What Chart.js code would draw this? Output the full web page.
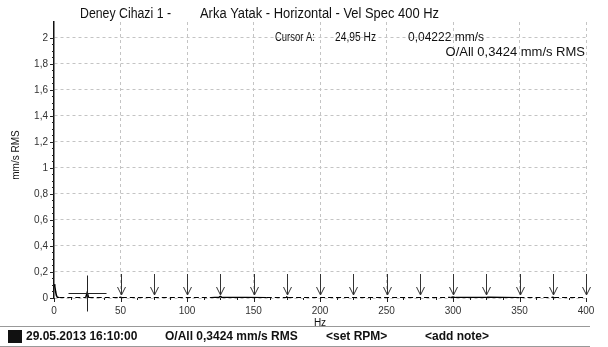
<!DOCTYPE html>
<html>
<head>
<meta charset="utf-8">
<script src="https://cdn.jsdelivr.net/npm/chart.js@4.4.1/dist/chart.umd.min.js"></script>
<style>
body { margin: 0; background: #fff; }
#wrap { position: relative; width: 608px; height: 347px; }
</style>
</head>
<body>
<div id="wrap"><canvas id="spec" width="608" height="347"></canvas></div>
<script>
// spectrum (Hz / mm/s RMS)
const specHz  = [0, 0.6, 1.2, 1.8, 2.5, 4, 10, 20, 23.8, 24.95, 26.1, 35, 49, 50, 51, 75, 100, 118, 124, 125, 126, 132, 145, 160, 174.5, 175, 176, 200, 225, 250, 275, 298, 300, 302, 310, 325, 326, 350, 374, 375, 376, 400];
const specAmp = [0.105, 0.09, 0.05, 0.02, 0.006, 0.002, 0.001, 0.001, 0.002, 0.042, 0.002, 0.001, 0.002, 0.006, 0.002, 0.001, 0.002, 0.002, 0.005, 0.012, 0.006, 0.004, 0.004, 0.001, 0.002, 0.006, 0.002, 0.001, 0.002, 0.001, 0.002, 0.003, 0.008, 0.003, 0.004, 0.003, 0.006, 0.002, 0.002, 0.006, 0.002, 0.001];

// harmonic markers (arrows) and cursor
const harmonicHz = [50, 75, 100, 125, 150, 175, 200, 225, 250, 275, 300, 325, 350, 375, 400];
const cursorHz = 24.95;
const cursorAmp = 0.04222;

const titleLeft = 'Deney Cihazi 1 -';
const titleRight = 'Arka Yatak - Horizontal - Vel Spec 400 Hz';
const cursorTxt = ['Cursor A:', '24,95 Hz', '0,04222 mm/s'];
const overallTxt = 'O/All 0,3424 mm/s RMS';
const footerTxt = ['29.05.2013 16:10:00', 'O/All 0,3424 mm/s RMS', '<set RPM>', '<add note>'];

const FONT = '"Liberation Sans", Arial, sans-serif';

function comma(v) {
    return (Math.round(v * 10) / 10).toString().replace('.', ',');
}

const overlay = {
    id: 'overlay',
    afterDraw(chart) {
        const ctx = chart.ctx;
        const xs = chart.scales.x, ys = chart.scales.y;
        const y0 = ys.getPixelForValue(0);
        ctx.save();

        // axis ticks (major + minor)
        ctx.strokeStyle = '#222';
        ctx.lineWidth = 1;
        ctx.beginPath();
        for (let i = 0; i <= 40; i++) {
            const py = Math.round(ys.getPixelForValue(i * 0.05)) + 0.5;
            const len = (i % 4 === 0) ? 4 : 2;
            ctx.moveTo(xs.left - len, py); ctx.lineTo(xs.left, py);
        }
        for (let i = 0; i <= 32; i++) {
            const px = Math.round(xs.getPixelForValue(i * 12.5)) + 0.5;
            const len = (i % 4 === 0) ? 4 : 2;
            ctx.moveTo(px, y0); ctx.lineTo(px, y0 + len);
        }
        ctx.stroke();

        // harmonic arrows
        ctx.strokeStyle = '#333';
        ctx.beginPath();
        harmonicHz.forEach(h => {
            const px = Math.round(xs.getPixelForValue(h)) + 0.5;
            ctx.moveTo(px, y0 - 24); ctx.lineTo(px, y0 - 3);
            ctx.moveTo(px - 4, y0 - 11); ctx.lineTo(px, y0 - 3); ctx.lineTo(px + 4, y0 - 11);
        });
        ctx.stroke();

        // cursor cross
        const cx = Math.round(xs.getPixelForValue(cursorHz)) + 0.5;
        const cy = Math.round(ys.getPixelForValue(cursorAmp)) + 0.5;
        ctx.strokeStyle = '#222';
        ctx.beginPath();
        ctx.moveTo(cx - 19, cy); ctx.lineTo(cx + 19, cy);
        ctx.moveTo(cx, cy - 18); ctx.lineTo(cx, cy + 18);
        ctx.stroke();

        // header texts
        ctx.fillStyle = '#111';
        ctx.textBaseline = 'middle';
        ctx.textAlign = 'left';
        ctx.font = '14px ' + FONT;
        ctx.fillText(titleLeft, 80, 14, 91);
        ctx.fillText(titleRight, 200, 14, 239);
        ctx.font = '12px ' + FONT;
        ctx.fillText(cursorTxt[0], 275, 38, 40);
        ctx.fillText(cursorTxt[1], 335, 38, 41);
        ctx.fillText(cursorTxt[2], 408, 38, 78);
        ctx.font = '13px ' + FONT;
        ctx.textAlign = 'right';
        ctx.fillText(overallTxt, 585, 52, 146);

        // axis titles
        ctx.textAlign = 'center';
        ctx.font = '10px ' + FONT;
        ctx.fillText('Hz', xs.getPixelForValue(200), 323);
        ctx.save();
        ctx.translate(16, 155);
        ctx.rotate(-Math.PI / 2);
        ctx.fillText('mm/s RMS', 0, 0);
        ctx.restore();

        // footer bar
        ctx.strokeStyle = '#999';
        ctx.beginPath();
        ctx.moveTo(0, 326.5); ctx.lineTo(590, 326.5);
        ctx.moveTo(0, 346.5); ctx.lineTo(590, 346.5);
        ctx.stroke();
        ctx.fillStyle = '#111';
        ctx.fillRect(8, 330, 14, 13);
        ctx.textAlign = 'left';
        ctx.font = 'bold 12px ' + FONT;
        ctx.fillText(footerTxt[0], 26, 337, 112);
        ctx.fillText(footerTxt[1], 165, 337, 138);
        ctx.fillText(footerTxt[2], 326, 337, 62);
        ctx.fillText(footerTxt[3], 425, 337, 66);
        ctx.restore();
    }
};

const points = specHz.map((h, i) => ({x: h, y: specAmp[i]}));

new Chart(document.getElementById('spec'), {
    type: 'line',
    data: {
        datasets: [{
            data: points,
            borderColor: '#000',
            borderWidth: 1.5,
            pointRadius: 0,
            tension: 0,
            fill: false,
            segment: {
                borderDash: c => (c.p0.parsed.y > 0.0035 || c.p1.parsed.y > 0.0035) ? [] : [5, 3]
            }
        }]
    },
    options: {
        responsive: false,
        animation: false,
        layout: { padding: { top: 22, right: 22, left: 0, bottom: 0 } },
        plugins: { legend: { display: false }, tooltip: { enabled: false } },
        scales: {
            x: {
                type: 'linear',
                min: 0,
                max: 400,
                afterFit: s => { s.height = 49; },
                ticks: {
                    stepSize: 50,
                    padding: 7,
                    maxRotation: 0,
                    color: '#333',
                    font: { family: FONT, size: 10 }
                },
                grid: { color: c => c.tick.value === 0 ? 'rgba(0,0,0,0)' : '#c4c4c4', drawTicks: false, borderDash: [3, 3] },
                border: { display: false, dash: [3, 3] }
            },
            y: {
                min: 0,
                max: 2.123,
                afterFit: s => { s.width = 54; },
                ticks: {
                    stepSize: 0.2,
                    includeBounds: false,
                    padding: 6,
                    color: '#333',
                    font: { family: FONT, size: 10 },
                    callback: v => comma(v)
                },
                grid: { color: '#c4c4c4', drawTicks: false, borderDash: [3, 3] },
                border: { display: true, color: '#111', width: 1.5, dash: [3, 3] }
            }
        }
    },
    plugins: [overlay]
});
</script>
</body>
</html>
